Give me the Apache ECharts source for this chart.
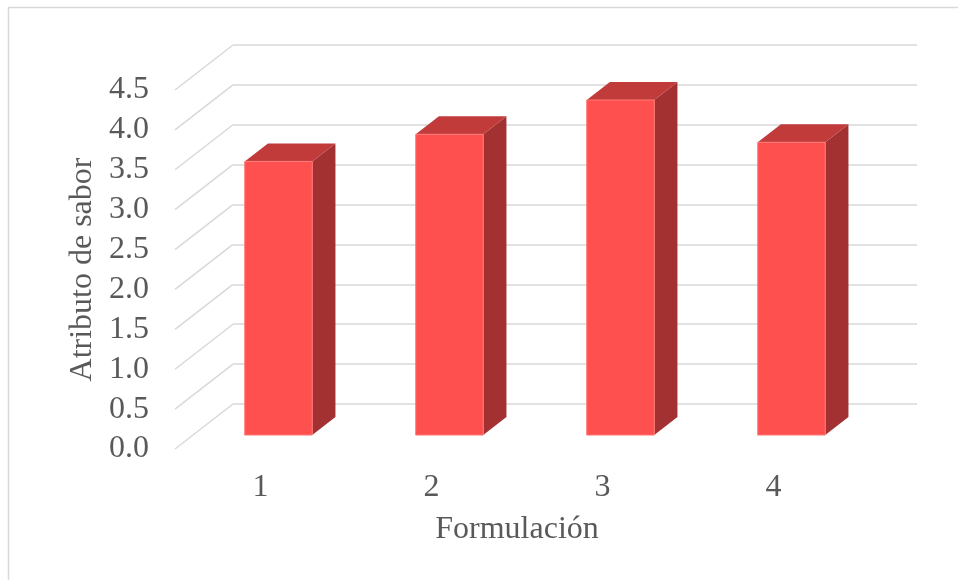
<!DOCTYPE html>
<html>
<head>
<meta charset="utf-8">
<script src="https://cdn.jsdelivr.net/npm/echarts@6/dist/echarts.min.js"></script>
<style>
  html, body { margin: 0; padding: 0; background: #ffffff; }
  #chart { width: 958px; height: 580px; }
</style>
</head>
<body>
<div id="chart"></div>
<script>
// Data
const categories = ['1', '2', '3', '4'];
const saborValues = [3.43, 3.77, 4.20, 3.67];
const yTicks = [0.0, 0.5, 1.0, 1.5, 2.0, 2.5, 3.0, 3.5, 4.0, 4.5];

// Pseudo-3D depth vector (front floor edge -> back wall)
const DEPTH_X = 58, DEPTH_Y = -45;
const BAR_FRONT = 0.31, BAR_BACK = 0.71, BAR_WIDTH = 0.395;
const FONT = '"Liberation Serif", "Times New Roman", serif';
const TEXT = '#595959';
const GRID = '#d9d9d9';

// Box-shaped bar: front face, top face and right side face
function renderBar(params, api) {
  const cat = api.value(0), val = api.value(1);
  const base = api.coord([cat, 0]);
  const top = api.coord([cat, val]);
  const band = api.size([1, 0])[0];
  const w = band * BAR_WIDTH;
  const fx = BAR_FRONT * DEPTH_X, fy = BAR_FRONT * DEPTH_Y;
  const bx = BAR_BACK * DEPTH_X, by = BAR_BACK * DEPTH_Y;
  const xl = base[0] - w / 2, xr = base[0] + w / 2;
  const yb = base[1], yt = top[1];
  return {
    type: 'group',
    children: [
      { type: 'polygon',
        shape: { points: [[xr + fx, yb + fy], [xr + bx, yb + by], [xr + bx, yt + by], [xr + fx, yt + fy]] },
        style: { fill: '#A33131' } },
      { type: 'polygon',
        shape: { points: [[xl + fx, yt + fy], [xr + fx, yt + fy], [xr + bx, yt + by], [xl + bx, yt + by]] },
        style: { fill: '#C23B3B' } },
      { type: 'rect',
        shape: { x: xl + fx, y: yt + fy, width: w, height: yb - yt },
        style: { fill: '#FF5050', stroke: '#FF7A7A', lineWidth: 1 } }
    ]
  };
}

// Left-wall gridlines running from the front edge to the back wall
function renderWallLine(params, api) {
  const p = api.coord([0, api.value(1)]);
  const band = api.size([1, 0])[0];
  const x0 = p[0] - band / 2;
  return {
    type: 'line',
    shape: { x1: x0, y1: p[1], x2: x0 + DEPTH_X, y2: p[1] + DEPTH_Y },
    style: { stroke: GRID, lineWidth: 1.5 }
  };
}

const chart = echarts.init(document.getElementById('chart'), null, { renderer: 'canvas' });

chart.setOption({
  backgroundColor: '#ffffff',
  animation: false,
  graphic: [{
    type: 'rect',
    shape: { x: 8.5, y: 7.5, width: 1200, height: 1200 },
    style: { fill: 'none', stroke: GRID, lineWidth: 1.5 },
    silent: true, z: -10
  }],
  grid: [
    { left: 175, right: 99, top: 90, bottom: 131 },   // front plane
    { left: 233, right: 41, top: 45, bottom: 176 }    // back wall
  ],
  xAxis: [
    {
      gridIndex: 0, type: 'category', data: categories,
      axisLine: { show: false }, axisTick: { show: false },
      axisLabel: { fontFamily: FONT, fontSize: 32, color: TEXT, margin: 23 },
      name: 'Formulación', nameLocation: 'middle', nameGap: 65,
      nameTextStyle: { fontFamily: FONT, fontSize: 32, color: TEXT }
    },
    {
      gridIndex: 1, type: 'category', data: categories, show: false
    }
  ],
  yAxis: [
    {
      gridIndex: 0, type: 'value', min: 0, max: 4.5, interval: 0.5,
      axisLine: { show: false }, axisTick: { show: false }, splitLine: { show: false },
      axisLabel: { fontFamily: FONT, fontSize: 32, color: TEXT, margin: 26,
                   formatter: v => v.toFixed(1) },
      name: 'Atributo de sabor', nameLocation: 'middle', nameRotate: 90, nameGap: 71,
      nameTextStyle: { fontFamily: FONT, fontSize: 32, color: TEXT }
    },
    {
      gridIndex: 1, type: 'value', min: 0, max: 4.5, interval: 0.5,
      axisLine: { show: false }, axisTick: { show: false }, axisLabel: { show: false },
      splitLine: { show: true, lineStyle: { color: GRID, width: 1.5 } }
    }
  ],
  series: [
    {
      type: 'custom', name: 'wall', xAxisIndex: 0, yAxisIndex: 0,
      renderItem: renderWallLine,
      data: yTicks.map(v => [0, v]),
      silent: true, z: 1
    },
    {
      type: 'custom', name: 'Atributo de sabor', xAxisIndex: 0, yAxisIndex: 0,
      renderItem: renderBar,
      data: saborValues.map((v, i) => [i, v]),
      z: 3
    }
  ]
});
</script>
</body>
</html>
